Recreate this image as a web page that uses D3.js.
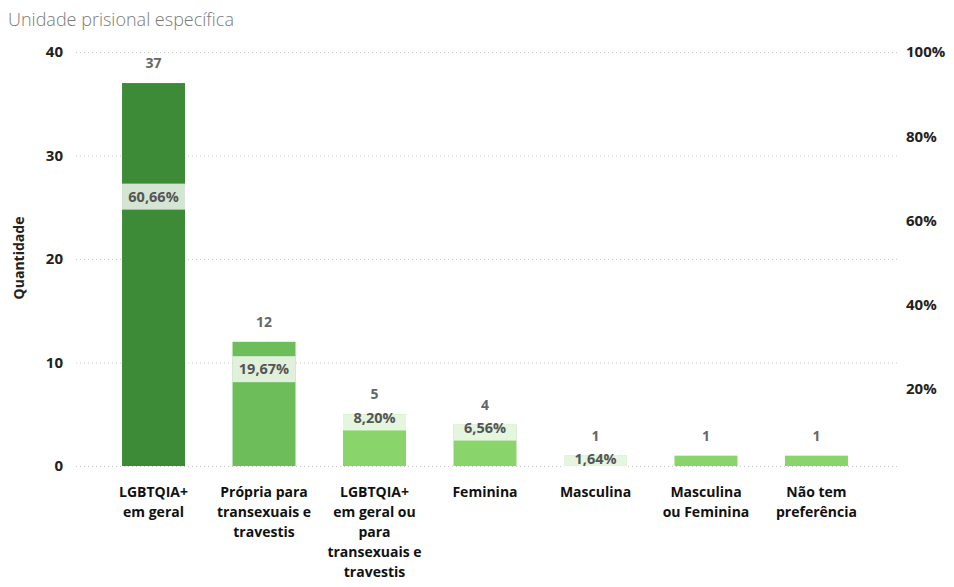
<!DOCTYPE html>
<html>
<head>
    <meta charset="utf-8">
    <title>Unidade prisional específica</title>
    <script src="https://cdn.jsdelivr.net/npm/d3@7"></script>
    <style>
        body { margin: 0; background: #fff; }
        svg text { font-family: "Open Sans", "Noto Sans", sans-serif; }
    </style>
</head>
<body>
<script>
    // data
    const categories = ['LGBTQIA+ em geral', 'Própria para transexuais e travestis',
        'LGBTQIA+ em geral ou para transexuais e travestis', 'Feminina', 'Masculina',
        'Masculina ou Feminina', 'Não tem preferência'];
    const catLines = [
        ['LGBTQIA+', 'em geral'],
        ['Própria para', 'transexuais e', 'travestis'],
        ['LGBTQIA+', 'em geral ou', 'para', 'transexuais e', 'travestis'],
        ['Feminina'],
        ['Masculina'],
        ['Masculina', 'ou Feminina'],
        ['Não tem', 'preferência']
    ];
    const counts = [37, 12, 5, 4, 1, 1, 1];
    // percentage labels (the last two are not shown in the chart)
    const pcts = [60.66, 19.67, 8.20, 6.56, 1.64, null, null];
    const countTicks = [0, 10, 20, 30, 40];
    const pctTicks = [20, 40, 60, 80, 100];
    const barColors = ['#3e8b37', '#6dbd5b', '#8ad46c', '#8ad46c', '#8ad46c', '#8ad46c', '#8ad46c'];

    const W = 954, H = 587;
    const svg = d3.select('body').append('svg')
        .attr('width', W).attr('height', H);

    const x = d3.scaleBand().domain(categories)
        .range([98, 872]).paddingInner(0.43).paddingOuter(0.2175);
    const y = d3.scaleLinear().domain([0, 40]).range([466, 52]);
    const yP = d3.scaleLinear().domain([0, 100]).range([473, 52]);

    // title
    svg.append('text')
        .attr('x', 8).attr('y', 26)
        .attr('font-size', 18).attr('font-weight', 300)
        .attr('fill', '#7a7a7a')
        .text('Unidade prisional específica');

    // gridlines
    svg.append('g').selectAll('line').data(countTicks).enter()
        .append('line')
        .attr('x1', 76).attr('x2', 897)
        .attr('y1', d => y(d) + 0.5).attr('y2', d => y(d) + 0.5)
        .attr('stroke', '#c8c8c8').attr('stroke-width', 1)
        .attr('stroke-dasharray', '1,3');

    // left axis
    const yAxis = d3.axisLeft(y).tickValues(countTicks).tickSize(0).tickPadding(0);
    const gy = svg.append('g').attr('transform', 'translate(63,0)').call(yAxis);
    gy.select('.domain').remove();
    gy.selectAll('text').attr('font-size', 15).attr('font-weight', 700).attr('fill', '#222')
        .attr('font-family', '"Open Sans", sans-serif');

    // right axis
    const pAxis = d3.axisRight(yP).tickValues(pctTicks).tickSize(0).tickPadding(0)
        .tickFormat(d => d + '%');
    const gp = svg.append('g').attr('transform', 'translate(906,0)').call(pAxis);
    gp.select('.domain').remove();
    gp.selectAll('text').attr('font-size', 15).attr('font-weight', 700).attr('fill', '#222')
        .attr('font-family', '"Open Sans", sans-serif');

    // y title
    svg.append('text')
        .attr('transform', 'translate(24,258) rotate(-90)')
        .attr('text-anchor', 'middle')
        .attr('font-size', 14).attr('font-weight', 700).attr('fill', '#222')
        .text('Quantidade');

    // bars
    svg.append('g').selectAll('rect').data(counts).enter()
        .append('rect')
        .attr('x', (d, i) => x(categories[i]))
        .attr('y', d => y(d))
        .attr('width', x.bandwidth())
        .attr('height', d => y(0) - y(d))
        .attr('fill', (d, i) => barColors[i]);

    // value labels
    const valY = d => y(d) - 20;
    svg.append('g').selectAll('text').data(counts).enter()
        .append('text')
        .attr('x', (d, i) => x(categories[i]) + x.bandwidth() / 2)
        .attr('y', d => valY(d))
        .attr('dy', '0.35em')
        .attr('text-anchor', 'middle')
        .attr('font-size', 14).attr('font-weight', 700).attr('fill', '#666')
        .text(d => d);

    // percentage labels, pushed below the value label when they would collide
    const pData = pcts.map((p, i) => ({p, i})).filter(d => d.p !== null);
    const pY = d => Math.max(yP(d.p) - 21, valY(counts[d.i]) + 23);
    const pg = svg.append('g').selectAll('g').data(pData).enter().append('g');
    pg.append('rect')
        .attr('x', d => x(categories[d.i]))
        .attr('y', d => Math.max(pY(d) - 13, y(counts[d.i])))
        .attr('width', x.bandwidth())
        .attr('height', d => pY(d) + 13 - Math.max(pY(d) - 13, y(counts[d.i])))
        .attr('fill', '#fff').attr('fill-opacity', 0.78);
    pg.append('text')
        .attr('x', d => x(categories[d.i]) + x.bandwidth() / 2)
        .attr('y', d => pY(d))
        .attr('dy', '0.35em')
        .attr('text-anchor', 'middle')
        .attr('font-size', 14.5).attr('font-weight', 700).attr('fill', '#555')
        .text(d => d.p.toFixed(2).replace('.', ',') + '%');

    // category labels
    const xl = svg.append('g').selectAll('text').data(catLines).enter()
        .append('text')
        .attr('text-anchor', 'middle')
        .attr('font-size', 14).attr('font-weight', 700).attr('fill', '#111');
    xl.selectAll('tspan').data((d, i) => d.map(t => ({t, i}))).enter()
        .append('tspan')
        .attr('x', d => x(categories[d.i]) + x.bandwidth() / 2)
        .attr('y', (d, j) => 497 + j * 20)
        .text(d => d.t);
</script>
</body>
</html>
